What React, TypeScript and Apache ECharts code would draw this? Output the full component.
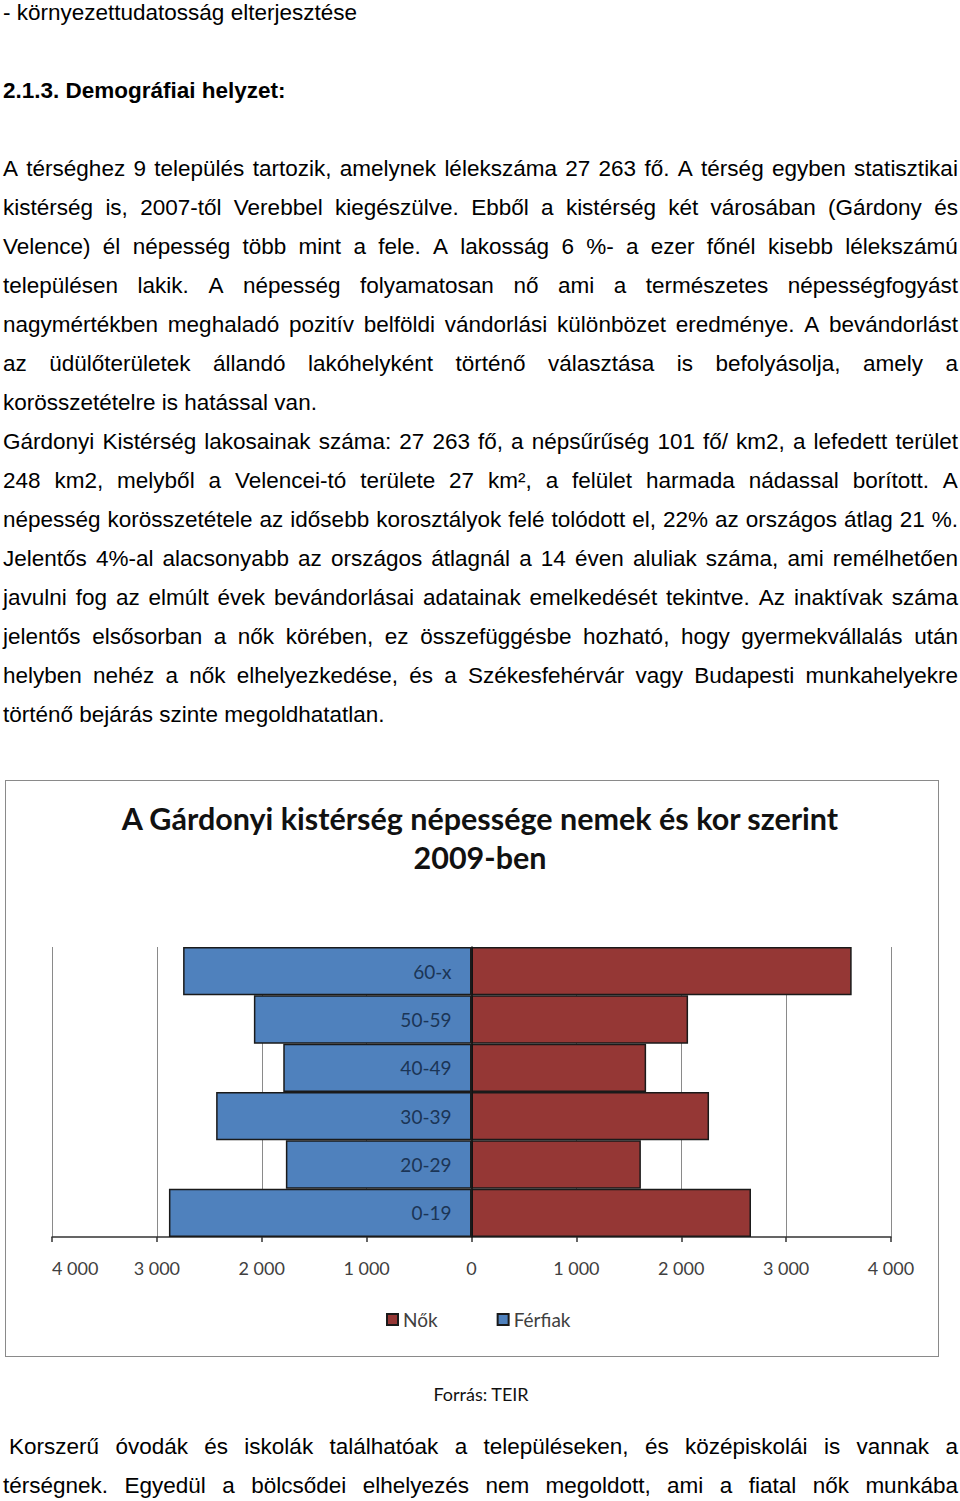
import React, { useEffect, useRef } from "react";
import * as echarts from "echarts";

// ---- Chart data ----
const ageGroups = ["0-19", "20-29", "30-39", "40-49", "50-59", "60-x"];
const maleValues = [2885, 1770, 2435, 1795, 2075, 2750]; // Férfiak
const femaleValues = [2665, 1615, 2265, 1665, 2065, 3625]; // Nők
const xTicks = [-4000, -3000, -2000, -1000, 0, 1000, 2000, 3000, 4000];
const chartTitle = "A Gárdonyi kistérség népessége nemek és kor szerint\n2009-ben";
const maleName = "Férfiak";
const femaleName = "Nők";

// ---- Document text ----
type Line = { y: number; text: string; justify?: boolean; bold?: boolean; indent?: number };
const lines: Line[] = [
  { y: 12, text: "- környezettudatosság elterjesztése" },
  { y: 90, text: "2.1.3. Demográfiai helyzet:", bold: true },
  { y: 168, text: "A térséghez 9 település tartozik, amelynek lélekszáma 27 263 fő. A térség egyben statisztikai", justify: true },
  { y: 207, text: "kistérség is, 2007-től Verebbel kiegészülve. Ebből a kistérség két városában (Gárdony és", justify: true },
  { y: 246, text: "Velence) él népesség több mint a fele. A lakosság 6 %- a ezer főnél kisebb lélekszámú", justify: true },
  { y: 285, text: "településen lakik. A népesség folyamatosan nő ami a természetes népességfogyást", justify: true },
  { y: 324, text: "nagymértékben meghaladó pozitív belföldi vándorlási különbözet eredménye. A bevándorlást", justify: true },
  { y: 363, text: "az üdülőterületek állandó lakóhelyként történő választása is befolyásolja, amely a", justify: true },
  { y: 402, text: "korösszetételre is hatással van." },
  { y: 441, text: "Gárdonyi Kistérség lakosainak száma: 27 263 fő, a népsűrűség 101 fő/ km2, a lefedett terület", justify: true },
  { y: 480, text: "248 km2, melyből a Velencei-tó területe 27 km², a felület harmada nádassal borított. A", justify: true },
  { y: 519, text: "népesség korösszetétele az idősebb korosztályok felé tolódott el, 22% az országos átlag 21 %.", justify: true },
  { y: 558, text: "Jelentős 4%-al alacsonyabb az országos átlagnál a 14 éven aluliak száma, ami remélhetően", justify: true },
  { y: 597, text: "javulni fog az elmúlt évek bevándorlásai adatainak emelkedését tekintve. Az inaktívak száma", justify: true },
  { y: 636, text: "jelentős elsősorban a nők körében, ez összefüggésbe hozható, hogy gyermekvállalás után", justify: true },
  { y: 675, text: "helyben nehéz a nők elhelyezkedése, és a Székesfehérvár vagy Budapesti munkahelyekre", justify: true },
  { y: 714, text: "történő bejárás szinte megoldhatatlan." },
  { y: 1446, text: "Korszerű óvodák és iskolák találhatóak a településeken, és középiskolái is vannak a", justify: true, indent: 6 },
  { y: 1485, text: "térségnek. Egyedül a bölcsődei elhelyezés nem megoldott, ami a fiatal nők munkába", justify: true },
];

const bodyFont = "'Liberation Sans', Arial, sans-serif";
const chartFont = "Lato, 'Liberation Sans Narrow', sans-serif";

function TextLine({ line }: { line: Line }) {
  const base: React.CSSProperties = {
    position: "absolute",
    left: 3 + (line.indent || 0),
    width: 955 - (line.indent || 0),
    top: line.y - 19.5,
    height: 39,
    lineHeight: "39px",
    fontFamily: bodyFont,
    fontSize: 22.5,
    fontWeight: line.bold ? 700 : 400,
    color: "#000",
    whiteSpace: "nowrap",
  };
  if (line.justify) {
    const words = line.text.split(/\s+/);
    return (
      <div style={{ ...base, display: "flex", justifyContent: "space-between" }}>
        {words.map((w, i) => (
          <span key={i}>{w}</span>
        ))}
      </div>
    );
  }
  return <div style={base}>{line.text}</div>;
}

function Chart() {
  const ref = useRef<HTMLDivElement>(null);
  useEffect(() => {
    if (!ref.current) return;
    const chart = echarts.init(ref.current, undefined, { renderer: "svg" });
    const fmt = (v: number) => {
      const a = Math.abs(v);
      if (a < 1000) return String(a);
      const s = String(a);
      return s.slice(0, s.length - 3) + " " + s.slice(s.length - 3);
    };
    chart.setOption({
      animation: false,
      title: {
        text: chartTitle,
        left: 474,
        textAlign: "center",
        top: 17,
        padding: 0,
        textStyle: {
          fontFamily: chartFont,
          fontSize: 30.5,
          fontWeight: "bold",
          lineHeight: 39,
          color: "#111",
        },
      },
      legend: {
        data: [femaleName, maleName],
        left: 380,
        top: 529,
        padding: 0,
        itemWidth: 11,
        itemHeight: 11,
        itemGap: 59,
        icon: "rect",
        textStyle: { fontFamily: chartFont, fontSize: 19, color: "#404040" },
      },
      grid: { left: 46, right: 47, top: 166, bottom: 119, containLabel: false, outerBoundsMode: "none" },
      xAxis: {
        type: "value",
        min: xTicks[0],
        max: xTicks[xTicks.length - 1],
        interval: 1000,
        axisLine: { show: true, lineStyle: { color: "#333", width: 1.5 } },
        axisTick: { show: true, length: 5, lineStyle: { color: "#333", width: 1.5 } },
        splitLine: { show: true, lineStyle: { color: "#8a8a8a", width: 1 } },
        axisLabel: {
          margin: 22,
          fontFamily: chartFont,
          fontSize: 18,
          color: "#404040",
          formatter: fmt,
          alignMinLabel: "left",
        },
      },
      yAxis: {
        type: "category",
        data: ageGroups,
        z: 10,
        axisLine: { show: true, onZero: true, lineStyle: { color: "#111", width: 1.5 } },
        axisTick: { show: false },
        axisLabel: { show: false },
      },
      series: [
        {
          name: maleName,
          type: "bar",
          stack: "pop",
          barCategoryGap: "0%",
          data: maleValues.map((v) => -v),
          itemStyle: { color: "#4f81bd", borderColor: "#1a1a1a", borderWidth: 1.5 },
        },
        {
          name: femaleName,
          type: "bar",
          stack: "pop",
          barCategoryGap: "0%",
          data: femaleValues,
          itemStyle: { color: "#953735", borderColor: "#1a1a1a", borderWidth: 1.5 },
          label: {
            show: true,
            position: "left",
            distance: 20,
            formatter: (p: any) => p.name,
            fontFamily: chartFont,
            fontSize: 19,
            color: "#1b3556",
          },
        },
      ],
    });
    return () => chart.dispose();
  }, []);
  return (
    <div
      style={{
        position: "absolute",
        left: 5,
        top: 780,
        width: 934,
        height: 577,
        border: "1px solid #8a8a8a",
        boxSizing: "border-box",
      }}
    >
      <div ref={ref} style={{ width: 932, height: 575 }} />
    </div>
  );
}

export default function App() {
  return (
    <div
      style={{
        position: "absolute",
        left: 0,
        top: 0,
        width: 960,
        height: 1501,
        overflow: "hidden",
        background: "#fff",
      }}
    >
      {lines.map((l, i) => (
        <TextLine key={i} line={l} />
      ))}
      <Chart />
      <div
        style={{
          position: "absolute",
          left: 0,
          width: 962,
          top: 1382,
          height: 24,
          lineHeight: "24px",
          textAlign: "center",
          fontFamily: chartFont,
          fontSize: 18,
          color: "#111",
        }}
      >
        Forrás: TEIR
      </div>
    </div>
  );
}
